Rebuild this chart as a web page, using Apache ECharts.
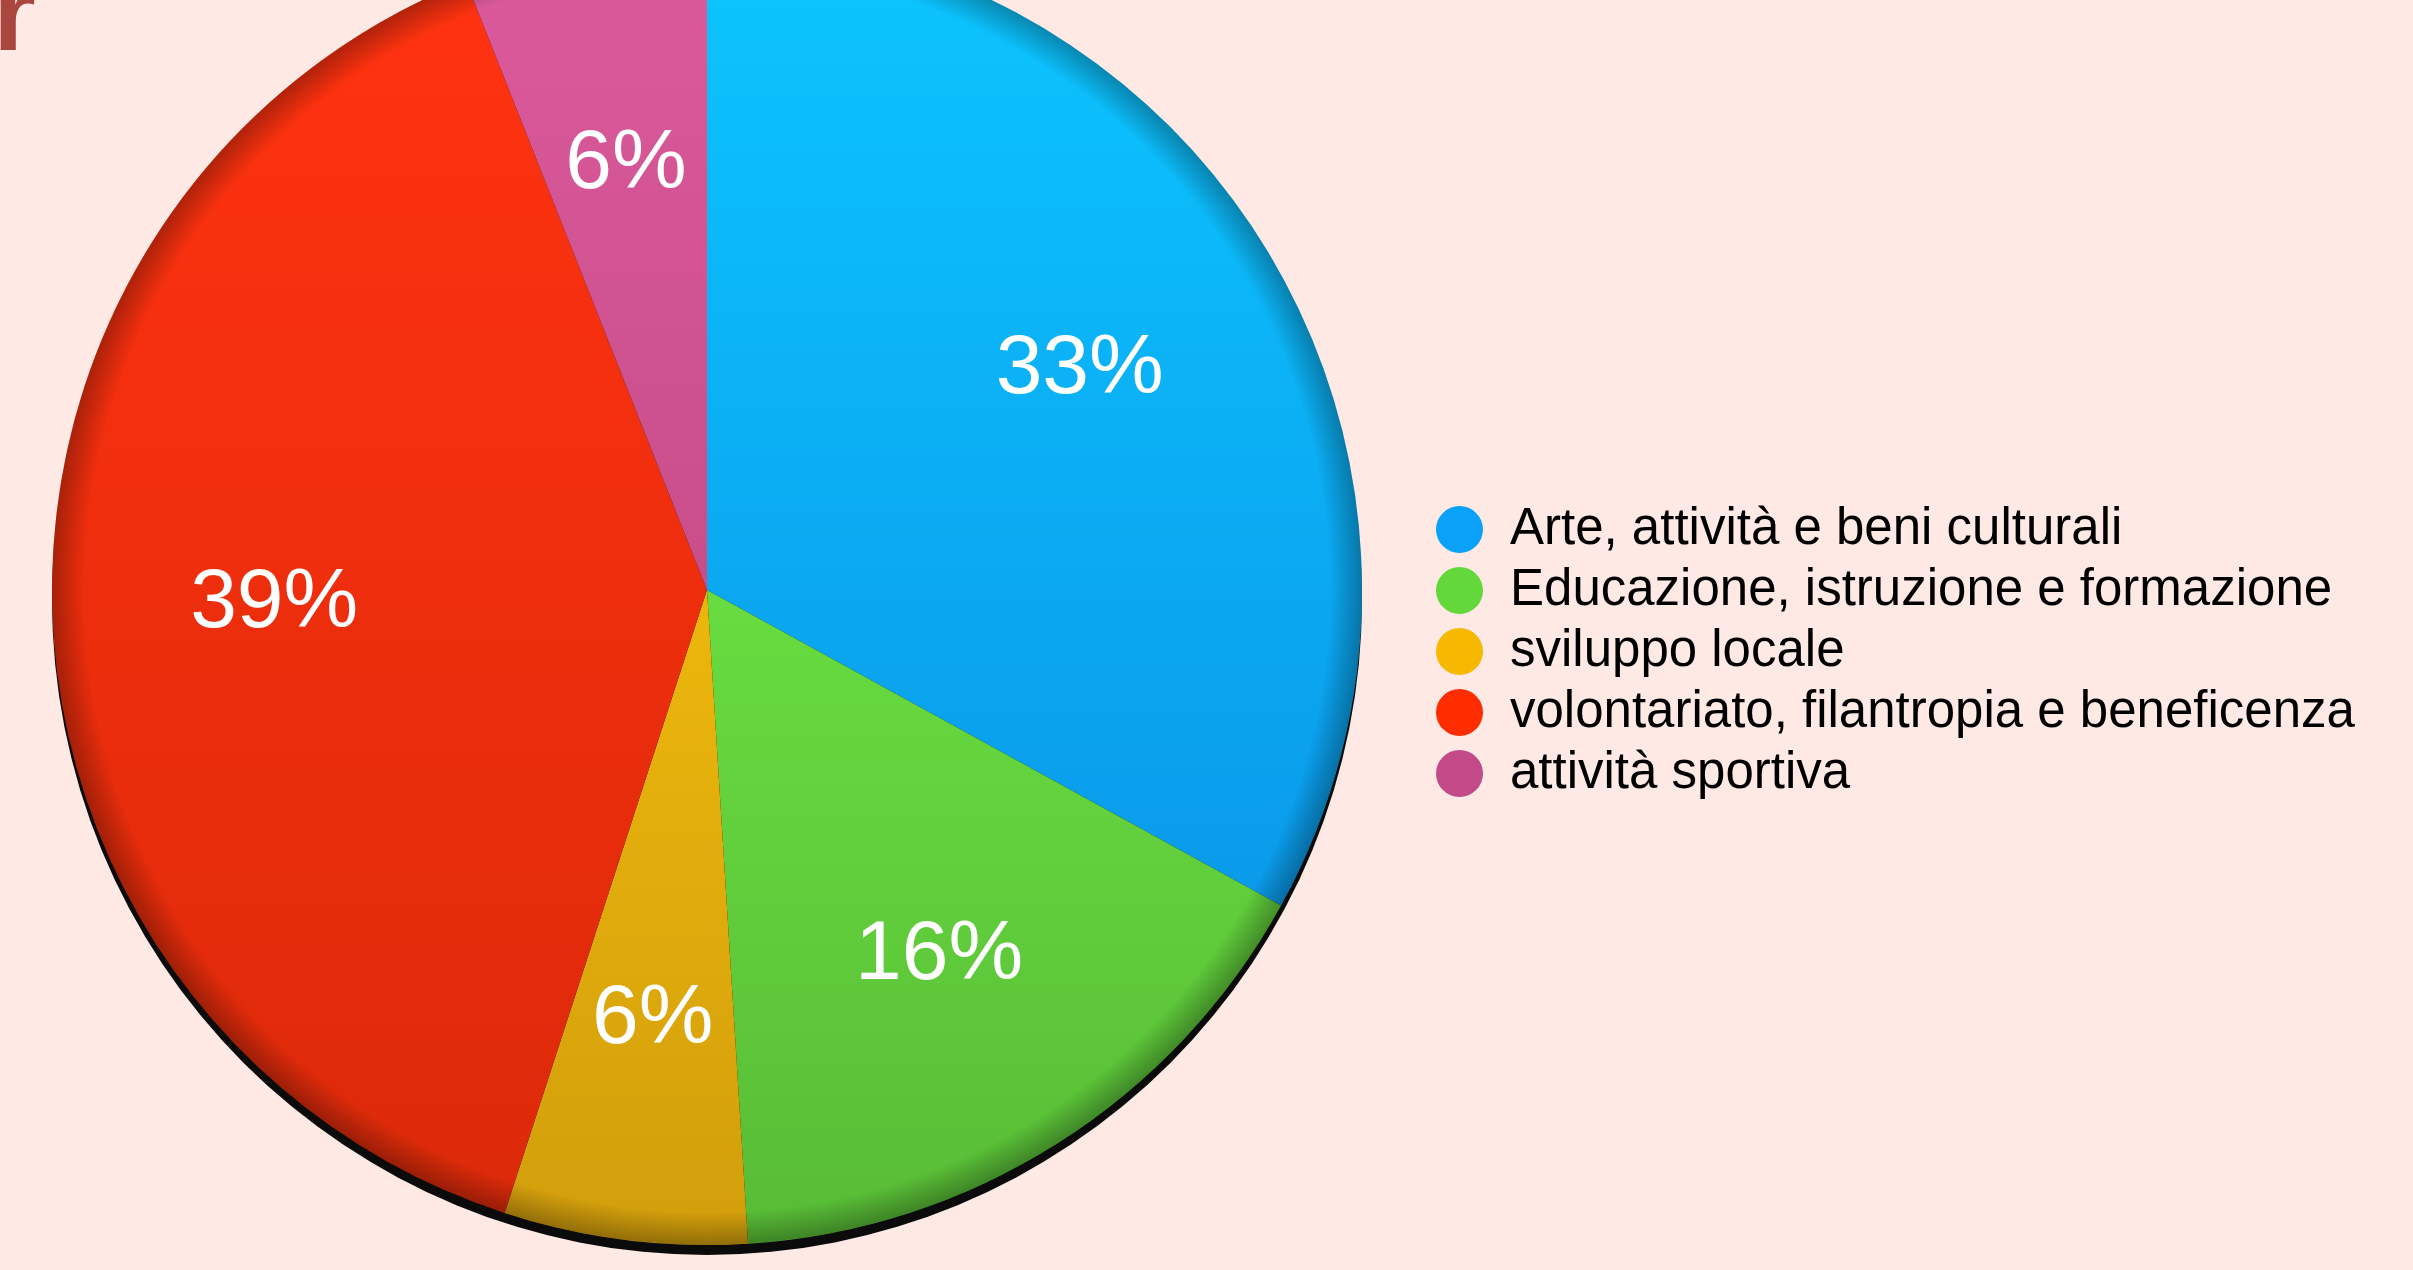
<!DOCTYPE html>
<html>
<head>
<meta charset="utf-8">
<script src="https://cdn.jsdelivr.net/npm/echarts@6/dist/echarts.min.js"></script>
<style>
  html, body { margin: 0; padding: 0; background: #fee9e4; }
  #chart { width: 2413px; height: 1270px; }
</style>
</head>
<body>
<div id="chart"></div>
<script>
// settori (in senso orario dall'alto)
const categories = [
  'Arte, attività e beni culturali',
  'Educazione, istruzione e formazione',
  'sviluppo locale',
  'volontariato, filantropia e beneficenza',
  'attività sportiva'
]
const percentages = [33, 16, 6, 39, 6]
const legendColors = ['#0aa2f8', '#62d83a', '#f6b800', '#ff2c00', '#c24a88']
const sliceTop = ['#0cc6ff', '#68dc40', '#ecb70c', '#ff3210', '#dc5a9c']
const sliceBottom = ['#0a9aea', '#58bc36', '#d29e0c', '#dc2a0a', '#c84e8a']

const chart = echarts.init(document.getElementById('chart'))

const center = [707, 590]
const radius = 655

const pieData = categories.map((name, i) => ({
  name: name,
  value: percentages[i],
  itemStyle: {
    color: new echarts.graphic.LinearGradient(0, 0, 0, 1, [
      {offset: 0, color: sliceTop[i]},
      {offset: 1, color: sliceBottom[i]}
    ])
  }
}))

const option = {
  backgroundColor: '#fee9e4',
  animation: false,
  title: {
    text: 'r',
    left: -12,
    top: -40,
    textStyle: {
      color: '#a9473f',
      fontSize: 110,
      fontWeight: 'bold',
      fontFamily: 'Liberation Sans'
    }
  },
  legend: {
    orient: 'vertical',
    left: 1431,
    top: 499,
    icon: 'circle',
    itemWidth: 47,
    itemHeight: 47,
    itemGap: 10,
    data: categories.map((name, i) => ({
      name: name,
      itemStyle: {color: legendColors[i]}
    })),
    textStyle: {
      color: '#000',
      fontSize: 51,
      lineHeight: 47,
      fontFamily: 'Liberation Sans',
      padding: [0, 0, 0, 22]
    }
  },
  series: [
    {
      // ombra sotto il disco
      type: 'pie',
      silent: true,
      z: 1,
      center: [center[0], center[1] + 10],
      radius: radius,
      label: {show: false},
      labelLine: {show: false},
      itemStyle: {color: '#0b0b0b'},
      data: [{name: '', value: 1}]
    },
    {
      type: 'pie',
      z: 2,
      center: center,
      radius: radius,
      startAngle: 90,
      clockwise: true,
      label: {show: false},
      labelLine: {show: false},
      itemStyle: {borderWidth: 0},
      data: pieData
    },
    {
      // bordo scuro
      type: 'pie',
      silent: true,
      z: 3,
      center: center,
      radius: radius,
      label: {show: false},
      labelLine: {show: false},
      itemStyle: {
        color: new echarts.graphic.RadialGradient(0.5, 0.5, 0.5, [
          {offset: 0, color: 'rgba(0,0,0,0)'},
          {offset: 0.95, color: 'rgba(0,0,0,0)'},
          {offset: 1, color: 'rgba(0,0,0,0.3)'}
        ])
      },
      data: [{name: ' ', value: 1}]
    },
    {
      // etichette percentuali
      type: 'pie',
      silent: true,
      z: 4,
      center: center,
      radius: [300, 560],
      startAngle: 90,
      clockwise: true,
      itemStyle: {color: 'rgba(0,0,0,0)'},
      labelLine: {show: false},
      label: {
        show: true,
        position: 'inside',
        formatter: '{c}%',
        color: '#fff',
        fontSize: 84,
        fontFamily: 'Liberation Sans'
      },
      data: categories.map((name, i) => ({name: name, value: percentages[i]}))
    }
  ]
}

chart.setOption(option)
</script>
</body>
</html>
